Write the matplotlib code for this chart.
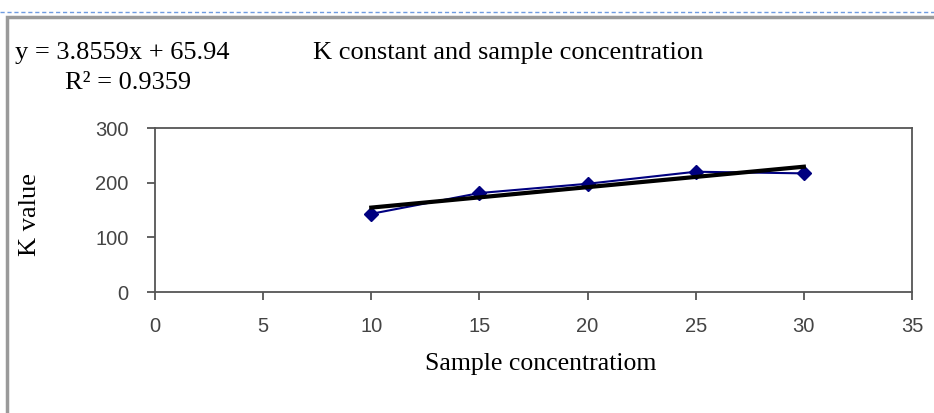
import numpy as np
import matplotlib.pyplot as plt
from matplotlib.patches import Rectangle
from matplotlib.lines import Line2D

conc = [10, 15, 20, 25, 30]
k_value = [143, 181, 198, 220, 217]
x_ticks = [0, 5, 10, 15, 20, 25, 30, 35]
y_ticks = [0, 100, 200, 300]

serif = ['Liberation Serif', 'DejaVu Serif']
sans = ['Liberation Sans', 'DejaVu Sans']

fig = plt.figure(figsize=(9.34, 4.13), dpi=100)
W, H = 934, 413

# рамка документа
fig.add_artist(Line2D([0, 1], [1 - 12 / H, 1 - 12 / H], color='#6f9be0', lw=1, ls=(0, (3, 2))))
fig.add_artist(Rectangle((7 / W, -0.1), 1.2, 1 - 17 / H + 0.1, fill=False,
                         edgecolor='#9a9a9a', lw=2.5))

ax = fig.add_axes([155 / W, 1 - 292 / H, (912 - 155) / W, (292 - 128) / H])
ax.plot(conc, k_value, color='#000080', lw=1.5, marker='D', markersize=7)
fit = np.polyfit(conc, k_value, 1)
xx = np.array([conc[0], conc[-1]])
ax.plot(xx, np.polyval(fit, xx), color='black', lw=3)

ax.set_xlim(0, 35)
ax.set_ylim(0, 300)
ax.set_xticks(x_ticks)
ax.set_yticks(y_ticks)
for s in ax.spines.values():
    s.set_color('#555555')
    s.set_linewidth(1.3)
ax.tick_params(colors='#555555', labelcolor='#444444', length=6, width=1.3, labelsize=14.5)
for lab in ax.get_xticklabels() + ax.get_yticklabels():
    lab.set_family(sans)
ax.tick_params(axis='x', pad=12)
ax.tick_params(axis='y', pad=13)

ax.set_xlabel('Sample concentratiom', family=serif, fontsize=18.5)
ax.set_ylabel('K value', family=serif, fontsize=19)
ax.xaxis.set_label_coords(0.51, -0.37)
ax.yaxis.set_label_coords(-0.15, 0.47)

fig.text(313 / W, 1 - 53 / H, 'K constant and sample concentration', family=serif,
         fontsize=19, va='center', ha='left')
fig.text(15 / W, 1 - 53 / H, 'y = 3.8559x + 65.94', family=serif, fontsize=19,
         va='center', ha='left')
fig.text(65 / W, 1 - 83 / H, 'R² = 0.9359', family=serif, fontsize=19,
         va='center', ha='left')

fig.savefig('out.png', dpi=100)
